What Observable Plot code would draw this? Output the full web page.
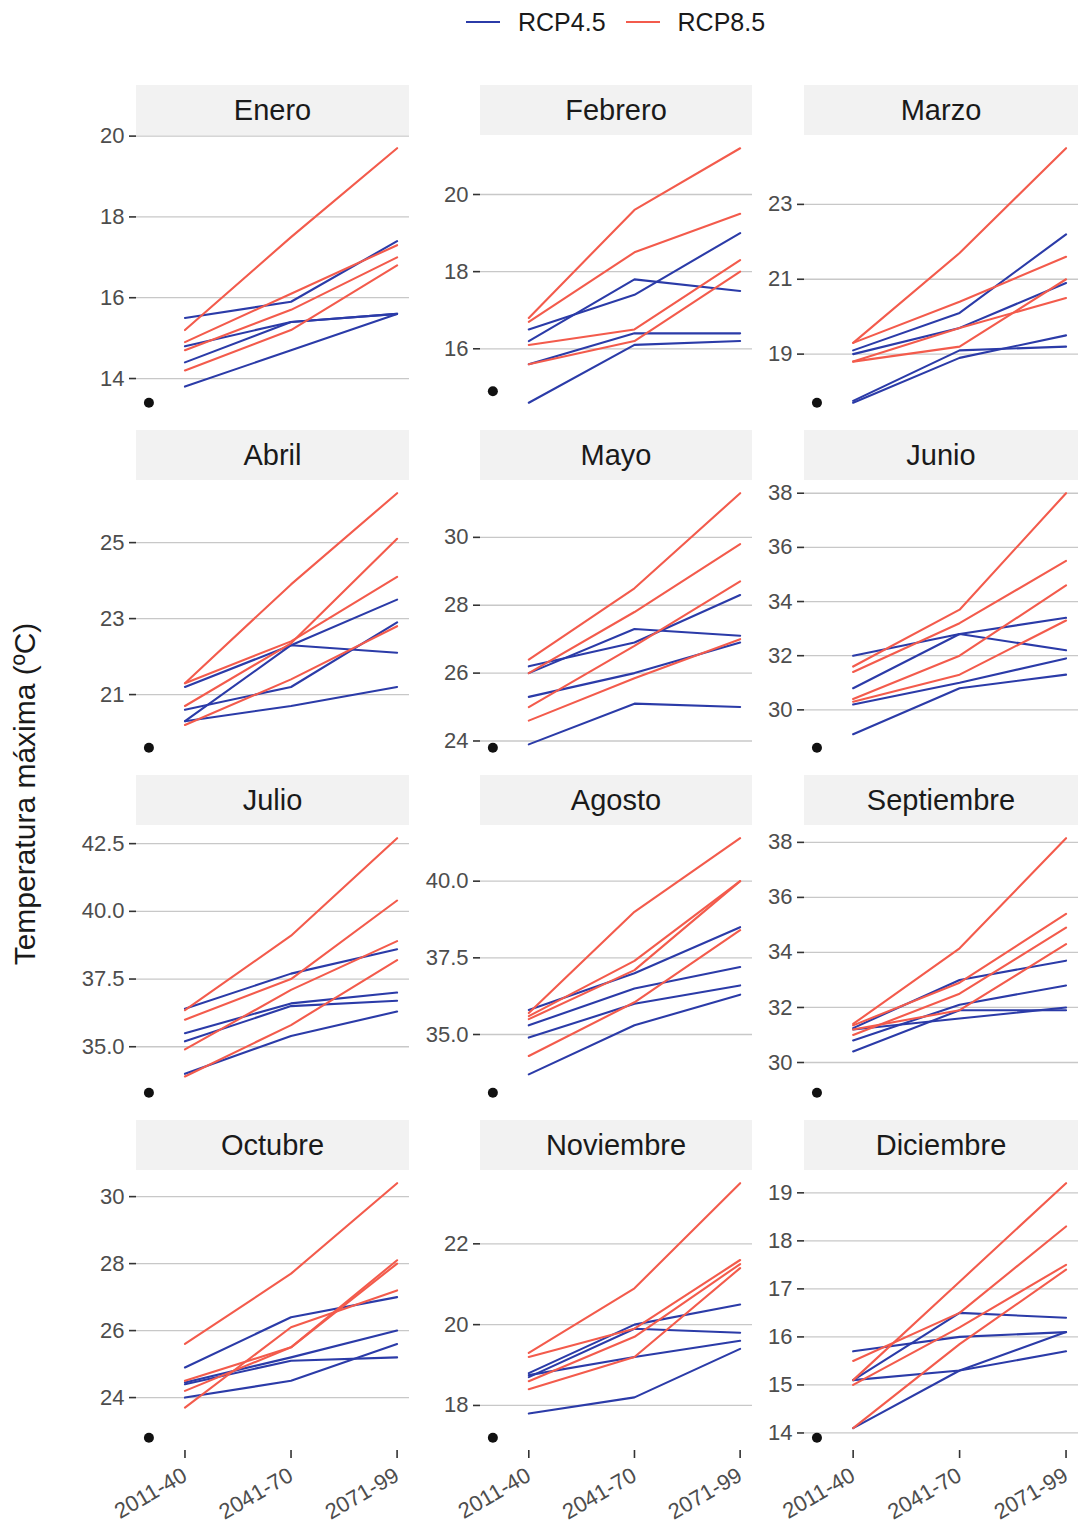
<!DOCTYPE html>
<html><head><meta charset="utf-8">
<script src="https://cdn.jsdelivr.net/npm/d3@7"></script>
<script src="https://cdn.jsdelivr.net/npm/@observablehq/plot@0.6"></script>
<style>
body{margin:0;background:#fff;}
#root{position:relative;width:1078px;height:1526px;font-family:"Liberation Sans",Arial,sans-serif;overflow:hidden;background:#fff;}
.strip{position:absolute;background:#F2F2F2;color:#1A1A1A;font-size:29px;display:flex;align-items:center;justify-content:center;}
.panel{position:absolute;}
.legend{position:absolute;left:466px;top:8px;height:28px;display:flex;align-items:center;font-size:25px;color:#1A1A1A;white-space:nowrap;}
.legend svg{display:block;}
.ytitle{position:absolute;left:25px;top:794px;transform:translate(-50%,-50%) rotate(-90deg);font-size:30px;color:#1A1A1A;white-space:nowrap;}
</style></head><body><div id="root"></div>
<script>
// ---- data ----
const months = ["Enero","Febrero","Marzo","Abril","Mayo","Junio","Julio","Agosto","Septiembre","Octubre","Noviembre","Diciembre"];
const periods = ["2011-40","2041-70","2071-99"];
const scenarios = ["RCP4.5","RCP8.5"];
// observed reference value per month, drawn left of the first period
const obsPeriod = 0.66;
const obs = [13.4, 14.9, 17.7, 19.6, 23.8, 28.6, 33.3, 33.1, 28.9, 22.8, 17.2, 13.9];
// each month: list of model series [2011-40, 2041-70, 2071-99]
const rcp45 = [
  [[15.5,15.9,17.4],[14.8,15.4,15.6],[14.4,15.4,15.6],[13.8,14.7,15.6]],
  [[16.5,17.4,19.0],[16.2,17.8,17.5],[15.6,16.4,16.4],[14.6,16.1,16.2]],
  [[19.1,20.1,22.2],[19.0,19.7,20.9],[17.75,19.1,19.2],[17.7,18.9,19.5]],
  [[21.2,22.3,23.5],[20.3,22.3,22.1],[20.6,21.2,22.9],[20.3,20.7,21.2]],
  [[26.0,27.3,27.1],[26.2,26.9,28.3],[25.3,26.0,26.9],[23.9,25.1,25.0]],
  [[32.0,32.8,32.2],[30.8,32.8,33.4],[30.2,31.0,31.9],[29.1,30.8,31.3]],
  [[36.4,37.7,38.6],[35.5,36.6,37.0],[35.2,36.5,36.7],[34.0,35.4,36.3]],
  [[35.8,37.0,38.5],[35.3,36.5,37.2],[34.9,36.0,36.6],[33.7,35.3,36.3]],
  [[31.25,33.0,33.7],[31.2,31.6,32.0],[30.8,32.1,32.8],[30.4,31.9,31.9]],
  [[24.9,26.4,27.0],[24.45,25.2,26.0],[24.4,25.1,25.2],[24.0,24.5,25.6]],
  [[18.8,20.0,20.5],[18.7,19.9,19.8],[18.75,19.2,19.6],[17.8,18.2,19.4]],
  [[15.7,16.0,16.1],[15.1,16.5,16.4],[15.1,15.3,15.7],[14.1,15.3,16.1]]
];
const rcp85 = [
  [[15.2,17.5,19.7],[14.9,16.1,17.3],[14.7,15.7,17.0],[14.2,15.2,16.8]],
  [[16.8,19.6,21.2],[16.7,18.5,19.5],[16.1,16.5,18.3],[15.6,16.2,18.0]],
  [[19.3,21.7,24.5],[19.3,20.4,21.6],[18.8,19.7,20.5],[18.8,19.2,21.0]],
  [[21.3,23.9,26.3],[21.3,22.4,24.1],[20.7,22.35,25.1],[20.2,21.4,22.8]],
  [[26.4,28.5,31.3],[26.0,27.8,29.8],[25.0,26.8,28.7],[24.6,25.85,27.0]],
  [[31.6,33.7,38.0],[31.4,33.2,35.5],[30.4,32.0,34.6],[30.3,31.3,33.3]],
  [[36.35,39.1,42.7],[36.0,37.5,40.4],[34.9,37.1,38.9],[33.9,35.8,38.2]],
  [[35.7,39.0,41.4],[35.6,37.4,40.0],[35.5,37.1,40.0],[34.3,36.05,38.4]],
  [[31.4,34.15,38.15],[31.35,32.9,35.4],[31.0,32.5,34.9],[31.2,31.9,34.3]],
  [[25.6,27.7,30.4],[24.5,25.5,28.0],[24.2,25.5,28.1],[23.7,26.1,27.2]],
  [[19.3,20.9,23.5],[19.2,19.9,21.6],[18.6,19.7,21.5],[18.4,19.2,21.4]],
  [[15.1,17.15,19.2],[15.5,16.5,18.3],[15.0,16.2,17.5],[14.1,15.85,17.4]]
];
const yTicks = [
  [14,16,18,20],[16,18,20],[19,21,23],[21,23,25],[24,26,28,30],[30,32,34,36,38],
  [35,37.5,40,42.5],[35,37.5,40],[30,32,34,36,38],[24,26,28,30],[18,20,22],[14,15,16,17,18,19]
];
const yDecimals = [0,0,0,0,0,0,1,1,0,0,0,0];
const colors = ["#2B3BA8", "#F35B4C"];

// ---- layout ----
const root = document.getElementById("root");
const colLeft = [136, 480, 804], colWidth = [273, 272, 274];
const rowTop = [85, 430, 775, 1120];
const stripH = 50, panelH = 280, axisW = 56, xAxisH = 76;

// legend
const lg = document.createElement("div");
lg.className = "legend";
scenarios.forEach((s, i) => {
  const sw = `<svg width="34" height="28"><line x1="0" x2="34" y1="14" y2="14" stroke="${colors[i]}" stroke-width="2"/></svg>`;
  const span = document.createElement("span");
  span.style.display = "flex"; span.style.alignItems = "center";
  span.style.marginRight = i === 0 ? "20px" : "0";
  span.innerHTML = sw + `<span style="margin-left:18px">${s}</span>`;
  lg.appendChild(span);
});
root.appendChild(lg);

const yt = document.createElement("div");
yt.className = "ytitle";
yt.textContent = "Temperatura máxima (ºC)";
root.appendChild(yt);

months.forEach((m, i) => {
  const r = Math.floor(i / 3), c = i % 3;
  const rows = [];
  [rcp45, rcp85].forEach((src, s) => {
    src[i].forEach((vals, k) => vals.forEach((v, j) => rows.push({scen: scenarios[s], model: k, p: j + 1, v})));
  });
  const obsRow = [{p: obsPeriod, v: obs[i]}];
  const [y0, y1] = d3.extent(rows.map(d => d.v).concat([obs[i]]));
  const ey = (y1 - y0) * 0.05;
  const [x0, x1] = d3.extent(rows.map(d => d.p).concat([obsPeriod]));
  const ex = (x1 - x0) * 0.05;
  const bottom = r === 3;

  const strip = document.createElement("div");
  strip.className = "strip";
  Object.assign(strip.style, {left: colLeft[c] + "px", top: rowTop[r] + "px", width: colWidth[c] + "px", height: stripH + "px"});
  strip.textContent = m;
  root.appendChild(strip);

  const fmt = d3.format(yDecimals[i] ? ".1f" : "d");
  const plot = Plot.plot({
    width: axisW + colWidth[c],
    height: panelH + (bottom ? xAxisH : 0),
    marginLeft: axisW, marginRight: 0, marginTop: 0, marginBottom: bottom ? xAxisH : 0,
    style: {fontFamily: '"Liberation Sans", Arial, sans-serif', fontSize: "22px", color: "#4D4D4D", background: "transparent", overflow: "visible"},
    x: {domain: [x0 - ex, x1 + ex], axis: null},
    y: {domain: [y0 - ey, y1 + ey], axis: null},
    color: {domain: scenarios, range: colors},
    marks: [
      Plot.gridY(yTicks[i], {stroke: "#C8C8C8", strokeOpacity: 1, strokeWidth: 1.3}),
      Plot.axisY(yTicks[i], {tickSize: 7, tickPadding: 5, stroke: "#333333", strokeWidth: 1.6, fill: "#4D4D4D", tickFormat: fmt, label: null}),
      bottom ? Plot.axisX([1, 2, 3], {tickSize: 8, tickPadding: 15, tickRotate: -30, stroke: "#333333", strokeWidth: 1.6, fill: "#4D4D4D", tickFormat: d => periods[d - 1], label: null}) : null,
      Plot.line(rows, {x: "p", y: "v", z: d => d.scen + d.model, stroke: "scen", strokeWidth: 2.1}),
      Plot.dot(obsRow, {x: "p", y: "v", r: 5, fill: "#111111", stroke: null})
    ]
  });
  plot.classList.add("panel");
  Object.assign(plot.style, {left: (colLeft[c] - axisW) + "px", top: (rowTop[r] + stripH) + "px", position: "absolute"});
  root.appendChild(plot);
});
</script></body></html>
